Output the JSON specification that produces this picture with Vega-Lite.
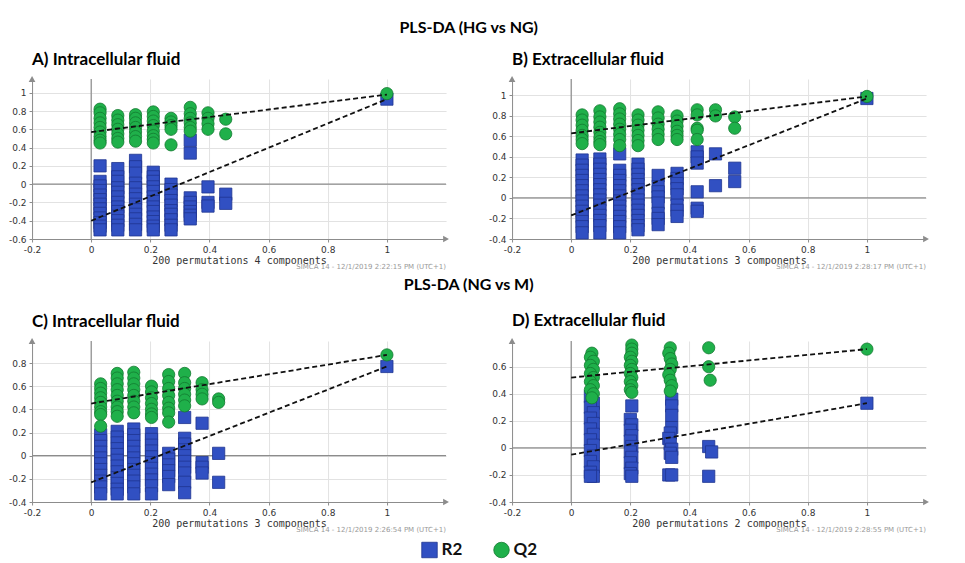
{
"$schema":"https://vega.github.io/schema/vega-lite/v6.json",
"padding":{"left":8,"top":20,"right":0,"bottom":0},
"spacing":7,
"center":true,
"datasets":{
"lns":[
{"p":"A","s":"Q2","x":0,"y":0.57},{"p":"A","s":"Q2","x":1,"y":0.98},{"p":"A","s":"R2","x":0,"y":-0.40},{"p":"A","s":"R2","x":1,"y":0.93},
{"p":"B","s":"Q2","x":0,"y":0.63},{"p":"B","s":"Q2","x":1,"y":0.99},{"p":"B","s":"R2","x":0,"y":-0.17},{"p":"B","s":"R2","x":1,"y":0.97},
{"p":"C","s":"Q2","x":0,"y":0.45},{"p":"C","s":"Q2","x":1,"y":0.87},{"p":"C","s":"R2","x":0,"y":-0.23},{"p":"C","s":"R2","x":1,"y":0.77},
{"p":"D","s":"Q2","x":0,"y":0.52},{"p":"D","s":"Q2","x":1,"y":0.73},{"p":"D","s":"R2","x":0,"y":-0.05},{"p":"D","s":"R2","x":1,"y":0.33}
],
"pts":[
{"p":"A","s":"R2","x":0.03,"y":0.20},{"p":"A","s":"R2","x":0.03,"y":0.03},{"p":"A","s":"R2","x":0.03,"y":-0.02},{"p":"A","s":"R2","x":0.03,"y":-0.07},{"p":"A","s":"R2","x":0.03,"y":-0.12},{"p":"A","s":"R2","x":0.03,"y":-0.17},{"p":"A","s":"R2","x":0.03,"y":-0.22},{"p":"A","s":"R2","x":0.03,"y":-0.27},{"p":"A","s":"R2","x":0.03,"y":-0.32},{"p":"A","s":"R2","x":0.03,"y":-0.37},{"p":"A","s":"R2","x":0.03,"y":-0.42},{"p":"A","s":"R2","x":0.03,"y":-0.46},{"p":"A","s":"R2","x":0.03,"y":-0.50},
{"p":"A","s":"R2","x":0.09,"y":0.17},{"p":"A","s":"R2","x":0.09,"y":0.08},{"p":"A","s":"R2","x":0.09,"y":0.03},{"p":"A","s":"R2","x":0.09,"y":-0.04},{"p":"A","s":"R2","x":0.09,"y":-0.09},{"p":"A","s":"R2","x":0.09,"y":-0.14},{"p":"A","s":"R2","x":0.09,"y":-0.20},{"p":"A","s":"R2","x":0.09,"y":-0.25},{"p":"A","s":"R2","x":0.09,"y":-0.30},{"p":"A","s":"R2","x":0.09,"y":-0.35},{"p":"A","s":"R2","x":0.09,"y":-0.40},{"p":"A","s":"R2","x":0.09,"y":-0.45},{"p":"A","s":"R2","x":0.09,"y":-0.50},
{"p":"A","s":"R2","x":0.15,"y":0.26},{"p":"A","s":"R2","x":0.15,"y":0.19},{"p":"A","s":"R2","x":0.15,"y":0.12},{"p":"A","s":"R2","x":0.15,"y":0.01},{"p":"A","s":"R2","x":0.15,"y":-0.04},{"p":"A","s":"R2","x":0.15,"y":-0.11},{"p":"A","s":"R2","x":0.15,"y":-0.16},{"p":"A","s":"R2","x":0.15,"y":-0.22},{"p":"A","s":"R2","x":0.15,"y":-0.28},{"p":"A","s":"R2","x":0.15,"y":-0.33},{"p":"A","s":"R2","x":0.15,"y":-0.38},{"p":"A","s":"R2","x":0.15,"y":-0.44},{"p":"A","s":"R2","x":0.15,"y":-0.50},
{"p":"A","s":"R2","x":0.21,"y":0.13},{"p":"A","s":"R2","x":0.21,"y":0.08},{"p":"A","s":"R2","x":0.21,"y":0.03},{"p":"A","s":"R2","x":0.21,"y":-0.03},{"p":"A","s":"R2","x":0.21,"y":-0.08},{"p":"A","s":"R2","x":0.21,"y":-0.14},{"p":"A","s":"R2","x":0.21,"y":-0.19},{"p":"A","s":"R2","x":0.21,"y":-0.25},{"p":"A","s":"R2","x":0.21,"y":-0.30},{"p":"A","s":"R2","x":0.21,"y":-0.36},{"p":"A","s":"R2","x":0.21,"y":-0.41},{"p":"A","s":"R2","x":0.21,"y":-0.46},{"p":"A","s":"R2","x":0.21,"y":-0.50},
{"p":"A","s":"R2","x":0.27,"y":0.00},{"p":"A","s":"R2","x":0.27,"y":-0.06},{"p":"A","s":"R2","x":0.27,"y":-0.12},{"p":"A","s":"R2","x":0.27,"y":-0.18},{"p":"A","s":"R2","x":0.27,"y":-0.23},{"p":"A","s":"R2","x":0.27,"y":-0.29},{"p":"A","s":"R2","x":0.27,"y":-0.33},{"p":"A","s":"R2","x":0.27,"y":-0.39},{"p":"A","s":"R2","x":0.27,"y":-0.45},{"p":"A","s":"R2","x":0.27,"y":-0.50},
{"p":"A","s":"R2","x":0.335,"y":0.48},{"p":"A","s":"R2","x":0.335,"y":0.34},{"p":"A","s":"R2","x":0.335,"y":-0.15},{"p":"A","s":"R2","x":0.335,"y":-0.20},{"p":"A","s":"R2","x":0.335,"y":-0.25},{"p":"A","s":"R2","x":0.335,"y":-0.30},{"p":"A","s":"R2","x":0.335,"y":-0.34},{"p":"A","s":"R2","x":0.335,"y":-0.38},
{"p":"A","s":"R2","x":0.395,"y":-0.03},{"p":"A","s":"R2","x":0.395,"y":-0.20},{"p":"A","s":"R2","x":0.395,"y":-0.24},
{"p":"A","s":"R2","x":0.455,"y":-0.11},{"p":"A","s":"R2","x":0.455,"y":-0.21},
{"p":"A","s":"R2","x":1,"y":0.93},
{"p":"A","s":"Q2","x":0.03,"y":0.82},{"p":"A","s":"Q2","x":0.03,"y":0.78},{"p":"A","s":"Q2","x":0.03,"y":0.72},{"p":"A","s":"Q2","x":0.03,"y":0.67},{"p":"A","s":"Q2","x":0.03,"y":0.62},{"p":"A","s":"Q2","x":0.03,"y":0.57},{"p":"A","s":"Q2","x":0.03,"y":0.52},{"p":"A","s":"Q2","x":0.03,"y":0.48},{"p":"A","s":"Q2","x":0.03,"y":0.45},
{"p":"A","s":"Q2","x":0.09,"y":0.75},{"p":"A","s":"Q2","x":0.09,"y":0.70},{"p":"A","s":"Q2","x":0.09,"y":0.65},{"p":"A","s":"Q2","x":0.09,"y":0.60},{"p":"A","s":"Q2","x":0.09,"y":0.55},{"p":"A","s":"Q2","x":0.09,"y":0.50},{"p":"A","s":"Q2","x":0.09,"y":0.46},
{"p":"A","s":"Q2","x":0.15,"y":0.76},{"p":"A","s":"Q2","x":0.15,"y":0.72},{"p":"A","s":"Q2","x":0.15,"y":0.67},{"p":"A","s":"Q2","x":0.15,"y":0.62},{"p":"A","s":"Q2","x":0.15,"y":0.57},{"p":"A","s":"Q2","x":0.15,"y":0.52},{"p":"A","s":"Q2","x":0.15,"y":0.47},
{"p":"A","s":"Q2","x":0.21,"y":0.79},{"p":"A","s":"Q2","x":0.21,"y":0.74},{"p":"A","s":"Q2","x":0.21,"y":0.69},{"p":"A","s":"Q2","x":0.21,"y":0.64},{"p":"A","s":"Q2","x":0.21,"y":0.58},{"p":"A","s":"Q2","x":0.21,"y":0.53},{"p":"A","s":"Q2","x":0.21,"y":0.49},{"p":"A","s":"Q2","x":0.21,"y":0.45},
{"p":"A","s":"Q2","x":0.27,"y":0.72},{"p":"A","s":"Q2","x":0.27,"y":0.68},{"p":"A","s":"Q2","x":0.27,"y":0.64},{"p":"A","s":"Q2","x":0.27,"y":0.60},{"p":"A","s":"Q2","x":0.27,"y":0.43},
{"p":"A","s":"Q2","x":0.335,"y":0.84},{"p":"A","s":"Q2","x":0.335,"y":0.77},{"p":"A","s":"Q2","x":0.335,"y":0.72},{"p":"A","s":"Q2","x":0.335,"y":0.67},{"p":"A","s":"Q2","x":0.335,"y":0.62},{"p":"A","s":"Q2","x":0.335,"y":0.58},
{"p":"A","s":"Q2","x":0.395,"y":0.78},{"p":"A","s":"Q2","x":0.395,"y":0.72},{"p":"A","s":"Q2","x":0.395,"y":0.66},{"p":"A","s":"Q2","x":0.395,"y":0.60},
{"p":"A","s":"Q2","x":0.455,"y":0.71},{"p":"A","s":"Q2","x":0.455,"y":0.55},
{"p":"A","s":"Q2","x":1,"y":0.99},

{"p":"B","s":"R2","x":0.037,"y":0.37},{"p":"B","s":"R2","x":0.037,"y":0.32},{"p":"B","s":"R2","x":0.037,"y":0.27},{"p":"B","s":"R2","x":0.037,"y":0.22},{"p":"B","s":"R2","x":0.037,"y":0.17},{"p":"B","s":"R2","x":0.037,"y":0.12},{"p":"B","s":"R2","x":0.037,"y":0.07},{"p":"B","s":"R2","x":0.037,"y":0.02},{"p":"B","s":"R2","x":0.037,"y":-0.03},{"p":"B","s":"R2","x":0.037,"y":-0.08},{"p":"B","s":"R2","x":0.037,"y":-0.13},{"p":"B","s":"R2","x":0.037,"y":-0.18},{"p":"B","s":"R2","x":0.037,"y":-0.23},{"p":"B","s":"R2","x":0.037,"y":-0.28},{"p":"B","s":"R2","x":0.037,"y":-0.34},
{"p":"B","s":"R2","x":0.097,"y":0.38},{"p":"B","s":"R2","x":0.097,"y":0.33},{"p":"B","s":"R2","x":0.097,"y":0.28},{"p":"B","s":"R2","x":0.097,"y":0.23},{"p":"B","s":"R2","x":0.097,"y":0.18},{"p":"B","s":"R2","x":0.097,"y":0.13},{"p":"B","s":"R2","x":0.097,"y":0.08},{"p":"B","s":"R2","x":0.097,"y":0.03},{"p":"B","s":"R2","x":0.097,"y":-0.02},{"p":"B","s":"R2","x":0.097,"y":-0.07},{"p":"B","s":"R2","x":0.097,"y":-0.12},{"p":"B","s":"R2","x":0.097,"y":-0.17},{"p":"B","s":"R2","x":0.097,"y":-0.22},{"p":"B","s":"R2","x":0.097,"y":-0.27},{"p":"B","s":"R2","x":0.097,"y":-0.34},
{"p":"B","s":"R2","x":0.164,"y":0.43},{"p":"B","s":"R2","x":0.164,"y":0.27},{"p":"B","s":"R2","x":0.164,"y":0.22},{"p":"B","s":"R2","x":0.164,"y":0.17},{"p":"B","s":"R2","x":0.164,"y":0.12},{"p":"B","s":"R2","x":0.164,"y":0.07},{"p":"B","s":"R2","x":0.164,"y":0.02},{"p":"B","s":"R2","x":0.164,"y":-0.03},{"p":"B","s":"R2","x":0.164,"y":-0.08},{"p":"B","s":"R2","x":0.164,"y":-0.13},{"p":"B","s":"R2","x":0.164,"y":-0.18},{"p":"B","s":"R2","x":0.164,"y":-0.23},{"p":"B","s":"R2","x":0.164,"y":-0.28},{"p":"B","s":"R2","x":0.164,"y":-0.34},
{"p":"B","s":"R2","x":0.226,"y":0.33},{"p":"B","s":"R2","x":0.226,"y":0.28},{"p":"B","s":"R2","x":0.226,"y":0.23},{"p":"B","s":"R2","x":0.226,"y":0.18},{"p":"B","s":"R2","x":0.226,"y":0.13},{"p":"B","s":"R2","x":0.226,"y":0.08},{"p":"B","s":"R2","x":0.226,"y":0.03},{"p":"B","s":"R2","x":0.226,"y":-0.02},{"p":"B","s":"R2","x":0.226,"y":-0.07},{"p":"B","s":"R2","x":0.226,"y":-0.12},{"p":"B","s":"R2","x":0.226,"y":-0.17},{"p":"B","s":"R2","x":0.226,"y":-0.22},{"p":"B","s":"R2","x":0.226,"y":-0.27},{"p":"B","s":"R2","x":0.226,"y":-0.31},
{"p":"B","s":"R2","x":0.294,"y":0.22},{"p":"B","s":"R2","x":0.294,"y":0.11},{"p":"B","s":"R2","x":0.294,"y":0.06},{"p":"B","s":"R2","x":0.294,"y":0.01},{"p":"B","s":"R2","x":0.294,"y":-0.05},{"p":"B","s":"R2","x":0.294,"y":-0.15},{"p":"B","s":"R2","x":0.294,"y":-0.20},{"p":"B","s":"R2","x":0.294,"y":-0.26},
{"p":"B","s":"R2","x":0.358,"y":0.24},{"p":"B","s":"R2","x":0.358,"y":0.19},{"p":"B","s":"R2","x":0.358,"y":0.14},{"p":"B","s":"R2","x":0.358,"y":0.09},{"p":"B","s":"R2","x":0.358,"y":0.03},{"p":"B","s":"R2","x":0.358,"y":-0.07},{"p":"B","s":"R2","x":0.358,"y":-0.12},{"p":"B","s":"R2","x":0.358,"y":-0.18},
{"p":"B","s":"R2","x":0.426,"y":0.45},{"p":"B","s":"R2","x":0.426,"y":0.40},{"p":"B","s":"R2","x":0.426,"y":0.34},{"p":"B","s":"R2","x":0.426,"y":0.06},{"p":"B","s":"R2","x":0.426,"y":-0.10},{"p":"B","s":"R2","x":0.426,"y":-0.13},
{"p":"B","s":"R2","x":0.488,"y":0.43},{"p":"B","s":"R2","x":0.488,"y":0.12},
{"p":"B","s":"R2","x":0.553,"y":0.29},{"p":"B","s":"R2","x":0.553,"y":0.16},
{"p":"B","s":"R2","x":1,"y":0.97},
{"p":"B","s":"Q2","x":0.037,"y":0.81},{"p":"B","s":"Q2","x":0.037,"y":0.76},{"p":"B","s":"Q2","x":0.037,"y":0.71},{"p":"B","s":"Q2","x":0.037,"y":0.66},{"p":"B","s":"Q2","x":0.037,"y":0.61},{"p":"B","s":"Q2","x":0.037,"y":0.57},{"p":"B","s":"Q2","x":0.037,"y":0.53},
{"p":"B","s":"Q2","x":0.097,"y":0.85},{"p":"B","s":"Q2","x":0.097,"y":0.79},{"p":"B","s":"Q2","x":0.097,"y":0.74},{"p":"B","s":"Q2","x":0.097,"y":0.69},{"p":"B","s":"Q2","x":0.097,"y":0.64},{"p":"B","s":"Q2","x":0.097,"y":0.59},{"p":"B","s":"Q2","x":0.097,"y":0.55},{"p":"B","s":"Q2","x":0.097,"y":0.52},
{"p":"B","s":"Q2","x":0.164,"y":0.87},{"p":"B","s":"Q2","x":0.164,"y":0.82},{"p":"B","s":"Q2","x":0.164,"y":0.77},{"p":"B","s":"Q2","x":0.164,"y":0.72},{"p":"B","s":"Q2","x":0.164,"y":0.67},{"p":"B","s":"Q2","x":0.164,"y":0.62},{"p":"B","s":"Q2","x":0.164,"y":0.57},{"p":"B","s":"Q2","x":0.164,"y":0.51},
{"p":"B","s":"Q2","x":0.226,"y":0.81},{"p":"B","s":"Q2","x":0.226,"y":0.76},{"p":"B","s":"Q2","x":0.226,"y":0.71},{"p":"B","s":"Q2","x":0.226,"y":0.66},{"p":"B","s":"Q2","x":0.226,"y":0.61},{"p":"B","s":"Q2","x":0.226,"y":0.56},{"p":"B","s":"Q2","x":0.226,"y":0.51},
{"p":"B","s":"Q2","x":0.294,"y":0.84},{"p":"B","s":"Q2","x":0.294,"y":0.78},{"p":"B","s":"Q2","x":0.294,"y":0.72},{"p":"B","s":"Q2","x":0.294,"y":0.67},{"p":"B","s":"Q2","x":0.294,"y":0.62},{"p":"B","s":"Q2","x":0.294,"y":0.57},
{"p":"B","s":"Q2","x":0.358,"y":0.80},{"p":"B","s":"Q2","x":0.358,"y":0.75},{"p":"B","s":"Q2","x":0.358,"y":0.70},{"p":"B","s":"Q2","x":0.358,"y":0.65},{"p":"B","s":"Q2","x":0.358,"y":0.61},{"p":"B","s":"Q2","x":0.358,"y":0.57},
{"p":"B","s":"Q2","x":0.426,"y":0.86},{"p":"B","s":"Q2","x":0.426,"y":0.81},{"p":"B","s":"Q2","x":0.426,"y":0.68},{"p":"B","s":"Q2","x":0.426,"y":0.66},{"p":"B","s":"Q2","x":0.426,"y":0.57},
{"p":"B","s":"Q2","x":0.488,"y":0.86},{"p":"B","s":"Q2","x":0.488,"y":0.80},
{"p":"B","s":"Q2","x":0.553,"y":0.79},{"p":"B","s":"Q2","x":0.553,"y":0.68},
{"p":"B","s":"Q2","x":1,"y":0.99},

{"p":"C","s":"R2","x":0.032,"y":0.18},{"p":"C","s":"R2","x":0.032,"y":0.13},{"p":"C","s":"R2","x":0.032,"y":0.08},{"p":"C","s":"R2","x":0.032,"y":0.03},{"p":"C","s":"R2","x":0.032,"y":-0.02},{"p":"C","s":"R2","x":0.032,"y":-0.07},{"p":"C","s":"R2","x":0.032,"y":-0.12},{"p":"C","s":"R2","x":0.032,"y":-0.17},{"p":"C","s":"R2","x":0.032,"y":-0.22},{"p":"C","s":"R2","x":0.032,"y":-0.27},{"p":"C","s":"R2","x":0.032,"y":-0.33},
{"p":"C","s":"R2","x":0.088,"y":0.21},{"p":"C","s":"R2","x":0.088,"y":0.16},{"p":"C","s":"R2","x":0.088,"y":0.11},{"p":"C","s":"R2","x":0.088,"y":0.06},{"p":"C","s":"R2","x":0.088,"y":0.01},{"p":"C","s":"R2","x":0.088,"y":-0.04},{"p":"C","s":"R2","x":0.088,"y":-0.09},{"p":"C","s":"R2","x":0.088,"y":-0.14},{"p":"C","s":"R2","x":0.088,"y":-0.19},{"p":"C","s":"R2","x":0.088,"y":-0.24},{"p":"C","s":"R2","x":0.088,"y":-0.29},{"p":"C","s":"R2","x":0.088,"y":-0.33},
{"p":"C","s":"R2","x":0.144,"y":0.23},{"p":"C","s":"R2","x":0.144,"y":0.18},{"p":"C","s":"R2","x":0.144,"y":0.13},{"p":"C","s":"R2","x":0.144,"y":0.08},{"p":"C","s":"R2","x":0.144,"y":0.03},{"p":"C","s":"R2","x":0.144,"y":-0.02},{"p":"C","s":"R2","x":0.144,"y":-0.07},{"p":"C","s":"R2","x":0.144,"y":-0.12},{"p":"C","s":"R2","x":0.144,"y":-0.17},{"p":"C","s":"R2","x":0.144,"y":-0.22},{"p":"C","s":"R2","x":0.144,"y":-0.27},{"p":"C","s":"R2","x":0.144,"y":-0.33},
{"p":"C","s":"R2","x":0.204,"y":0.19},{"p":"C","s":"R2","x":0.204,"y":0.14},{"p":"C","s":"R2","x":0.204,"y":0.09},{"p":"C","s":"R2","x":0.204,"y":0.04},{"p":"C","s":"R2","x":0.204,"y":-0.01},{"p":"C","s":"R2","x":0.204,"y":-0.06},{"p":"C","s":"R2","x":0.204,"y":-0.11},{"p":"C","s":"R2","x":0.204,"y":-0.16},{"p":"C","s":"R2","x":0.204,"y":-0.21},{"p":"C","s":"R2","x":0.204,"y":-0.26},{"p":"C","s":"R2","x":0.204,"y":-0.33},
{"p":"C","s":"R2","x":0.262,"y":0.02},{"p":"C","s":"R2","x":0.262,"y":-0.03},{"p":"C","s":"R2","x":0.262,"y":-0.08},{"p":"C","s":"R2","x":0.262,"y":-0.13},{"p":"C","s":"R2","x":0.262,"y":-0.18},{"p":"C","s":"R2","x":0.262,"y":-0.25},
{"p":"C","s":"R2","x":0.316,"y":0.33},{"p":"C","s":"R2","x":0.316,"y":0.15},{"p":"C","s":"R2","x":0.316,"y":0.10},{"p":"C","s":"R2","x":0.316,"y":0.05},{"p":"C","s":"R2","x":0.316,"y":0.00},{"p":"C","s":"R2","x":0.316,"y":-0.05},{"p":"C","s":"R2","x":0.316,"y":-0.10},{"p":"C","s":"R2","x":0.316,"y":-0.15},{"p":"C","s":"R2","x":0.316,"y":-0.23},{"p":"C","s":"R2","x":0.316,"y":-0.32},
{"p":"C","s":"R2","x":0.375,"y":0.28},{"p":"C","s":"R2","x":0.375,"y":-0.06},{"p":"C","s":"R2","x":0.375,"y":-0.10},{"p":"C","s":"R2","x":0.375,"y":-0.15},
{"p":"C","s":"R2","x":0.431,"y":0.02},{"p":"C","s":"R2","x":0.431,"y":-0.23},
{"p":"C","s":"R2","x":1,"y":0.77},
{"p":"C","s":"Q2","x":0.032,"y":0.62},{"p":"C","s":"Q2","x":0.032,"y":0.58},{"p":"C","s":"Q2","x":0.032,"y":0.54},{"p":"C","s":"Q2","x":0.032,"y":0.50},{"p":"C","s":"Q2","x":0.032,"y":0.46},{"p":"C","s":"Q2","x":0.032,"y":0.42},{"p":"C","s":"Q2","x":0.032,"y":0.38},{"p":"C","s":"Q2","x":0.032,"y":0.355},{"p":"C","s":"Q2","x":0.032,"y":0.255},
{"p":"C","s":"Q2","x":0.088,"y":0.71},{"p":"C","s":"Q2","x":0.088,"y":0.67},{"p":"C","s":"Q2","x":0.088,"y":0.62},{"p":"C","s":"Q2","x":0.088,"y":0.57},{"p":"C","s":"Q2","x":0.088,"y":0.52},{"p":"C","s":"Q2","x":0.088,"y":0.47},{"p":"C","s":"Q2","x":0.088,"y":0.42},{"p":"C","s":"Q2","x":0.088,"y":0.38},{"p":"C","s":"Q2","x":0.088,"y":0.34},
{"p":"C","s":"Q2","x":0.144,"y":0.72},{"p":"C","s":"Q2","x":0.144,"y":0.67},{"p":"C","s":"Q2","x":0.144,"y":0.62},{"p":"C","s":"Q2","x":0.144,"y":0.57},{"p":"C","s":"Q2","x":0.144,"y":0.52},{"p":"C","s":"Q2","x":0.144,"y":0.47},{"p":"C","s":"Q2","x":0.144,"y":0.42},{"p":"C","s":"Q2","x":0.144,"y":0.37},
{"p":"C","s":"Q2","x":0.204,"y":0.60},{"p":"C","s":"Q2","x":0.204,"y":0.55},{"p":"C","s":"Q2","x":0.204,"y":0.50},{"p":"C","s":"Q2","x":0.204,"y":0.45},{"p":"C","s":"Q2","x":0.204,"y":0.40},{"p":"C","s":"Q2","x":0.204,"y":0.36},{"p":"C","s":"Q2","x":0.204,"y":0.33},
{"p":"C","s":"Q2","x":0.262,"y":0.70},{"p":"C","s":"Q2","x":0.262,"y":0.64},{"p":"C","s":"Q2","x":0.262,"y":0.58},{"p":"C","s":"Q2","x":0.262,"y":0.52},{"p":"C","s":"Q2","x":0.262,"y":0.46},{"p":"C","s":"Q2","x":0.262,"y":0.41},{"p":"C","s":"Q2","x":0.262,"y":0.37},{"p":"C","s":"Q2","x":0.262,"y":0.29},
{"p":"C","s":"Q2","x":0.316,"y":0.71},{"p":"C","s":"Q2","x":0.316,"y":0.63},{"p":"C","s":"Q2","x":0.316,"y":0.58},{"p":"C","s":"Q2","x":0.316,"y":0.53},{"p":"C","s":"Q2","x":0.316,"y":0.48},{"p":"C","s":"Q2","x":0.316,"y":0.43},
{"p":"C","s":"Q2","x":0.375,"y":0.63},{"p":"C","s":"Q2","x":0.375,"y":0.57},{"p":"C","s":"Q2","x":0.375,"y":0.53},{"p":"C","s":"Q2","x":0.375,"y":0.49},
{"p":"C","s":"Q2","x":0.431,"y":0.49},{"p":"C","s":"Q2","x":0.431,"y":0.46},
{"p":"C","s":"Q2","x":1,"y":0.87},

{"p":"D","s":"R2","x":0.065,"y":0.38},{"p":"D","s":"R2","x":0.075,"y":0.33},{"p":"D","s":"R2","x":0.065,"y":0.30},{"p":"D","s":"R2","x":0.075,"y":0.26},{"p":"D","s":"R2","x":0.065,"y":0.22},{"p":"D","s":"R2","x":0.075,"y":0.18},{"p":"D","s":"R2","x":0.065,"y":0.14},{"p":"D","s":"R2","x":0.075,"y":0.10},{"p":"D","s":"R2","x":0.065,"y":0.06},{"p":"D","s":"R2","x":0.075,"y":0.02},{"p":"D","s":"R2","x":0.065,"y":-0.02},{"p":"D","s":"R2","x":0.075,"y":-0.06},{"p":"D","s":"R2","x":0.065,"y":-0.10},{"p":"D","s":"R2","x":0.075,"y":-0.14},{"p":"D","s":"R2","x":0.065,"y":-0.18},{"p":"D","s":"R2","x":0.075,"y":-0.21},{"p":"D","s":"R2","x":0.065,"y":-0.21},
{"p":"D","s":"R2","x":0.205,"y":0.31},{"p":"D","s":"R2","x":0.2,"y":0.21},{"p":"D","s":"R2","x":0.205,"y":0.17},{"p":"D","s":"R2","x":0.2,"y":0.13},{"p":"D","s":"R2","x":0.205,"y":0.09},{"p":"D","s":"R2","x":0.2,"y":0.05},{"p":"D","s":"R2","x":0.205,"y":0.01},{"p":"D","s":"R2","x":0.2,"y":-0.03},{"p":"D","s":"R2","x":0.205,"y":-0.07},{"p":"D","s":"R2","x":0.2,"y":-0.11},{"p":"D","s":"R2","x":0.205,"y":-0.15},{"p":"D","s":"R2","x":0.2,"y":-0.19},{"p":"D","s":"R2","x":0.205,"y":-0.21},
{"p":"D","s":"R2","x":0.34,"y":0.36},{"p":"D","s":"R2","x":0.34,"y":0.31},{"p":"D","s":"R2","x":0.34,"y":0.24},{"p":"D","s":"R2","x":0.34,"y":0.15},{"p":"D","s":"R2","x":0.335,"y":0.11},{"p":"D","s":"R2","x":0.33,"y":0.07},{"p":"D","s":"R2","x":0.335,"y":0.03},{"p":"D","s":"R2","x":0.34,"y":-0.01},{"p":"D","s":"R2","x":0.335,"y":-0.04},{"p":"D","s":"R2","x":0.34,"y":-0.07},{"p":"D","s":"R2","x":0.33,"y":-0.20},{"p":"D","s":"R2","x":0.34,"y":-0.20},
{"p":"D","s":"R2","x":0.465,"y":0.01},{"p":"D","s":"R2","x":0.475,"y":-0.03},{"p":"D","s":"R2","x":0.465,"y":-0.21},
{"p":"D","s":"R2","x":1,"y":0.33},
{"p":"D","s":"Q2","x":0.07,"y":0.70},{"p":"D","s":"Q2","x":0.065,"y":0.67},{"p":"D","s":"Q2","x":0.075,"y":0.64},{"p":"D","s":"Q2","x":0.065,"y":0.61},{"p":"D","s":"Q2","x":0.075,"y":0.58},{"p":"D","s":"Q2","x":0.065,"y":0.55},{"p":"D","s":"Q2","x":0.075,"y":0.52},{"p":"D","s":"Q2","x":0.065,"y":0.49},{"p":"D","s":"Q2","x":0.075,"y":0.46},{"p":"D","s":"Q2","x":0.065,"y":0.43},{"p":"D","s":"Q2","x":0.075,"y":0.40},{"p":"D","s":"Q2","x":0.07,"y":0.37},
{"p":"D","s":"Q2","x":0.205,"y":0.76},{"p":"D","s":"Q2","x":0.205,"y":0.73},{"p":"D","s":"Q2","x":0.205,"y":0.70},{"p":"D","s":"Q2","x":0.2,"y":0.67},{"p":"D","s":"Q2","x":0.205,"y":0.64},{"p":"D","s":"Q2","x":0.2,"y":0.61},{"p":"D","s":"Q2","x":0.205,"y":0.58},{"p":"D","s":"Q2","x":0.2,"y":0.55},{"p":"D","s":"Q2","x":0.205,"y":0.52},{"p":"D","s":"Q2","x":0.2,"y":0.49},{"p":"D","s":"Q2","x":0.205,"y":0.46},{"p":"D","s":"Q2","x":0.2,"y":0.43},{"p":"D","s":"Q2","x":0.205,"y":0.41},
{"p":"D","s":"Q2","x":0.335,"y":0.74},{"p":"D","s":"Q2","x":0.33,"y":0.70},{"p":"D","s":"Q2","x":0.335,"y":0.66},{"p":"D","s":"Q2","x":0.34,"y":0.62},{"p":"D","s":"Q2","x":0.335,"y":0.58},{"p":"D","s":"Q2","x":0.33,"y":0.54},{"p":"D","s":"Q2","x":0.335,"y":0.50},{"p":"D","s":"Q2","x":0.34,"y":0.46},{"p":"D","s":"Q2","x":0.335,"y":0.42},
{"p":"D","s":"Q2","x":0.465,"y":0.74},{"p":"D","s":"Q2","x":0.465,"y":0.60},{"p":"D","s":"Q2","x":0.47,"y":0.50},
{"p":"D","s":"Q2","x":1,"y":0.73}
]
},
"vconcat":[
{"title":{"text":"PLS-DA (HG vs NG)","anchor":"middle","frame":"bounds","fontSize":16,"offset":15},
 "spacing":39,
 "hconcat":[
 {"width":414,"height":160,"title":{"text":"A) Intracellular fluid"},
  "layer":[
   {"data":{"values":[{}]},"mark":{"type":"rule","color":"#8c8c8c","strokeWidth":1.2},"encoding":{"x":{"datum":0,"axis":{"values":[-0.2,0,0.2,0.4,0.6,0.8,1],"labelExpr":"toString(datum.value)","labelOverlap":false,"title":"200 permutations 4 components"}}}},
   {"data":{"values":[{}]},"mark":{"type":"rule","color":"#8c8c8c","strokeWidth":1.2},"encoding":{"y":{"datum":0,"axis":{"values":[-0.6,-0.4,-0.2,0,0.2,0.4,0.6,0.8,1],"labelExpr":"toString(datum.value)","labelOverlap":false,"title":null}}}},
   {"data":{"name":"pts"},"transform":[{"filter":"datum.p==='A'"}],"mark":{"type":"point","filled":true,"size":150,"strokeWidth":0.8,"opacity":1},
    "encoding":{
     "x":{"field":"x","type":"quantitative","scale":{"domain":[-0.2,1.2],"nice":false,"zero":false},"axis":{"values":[-0.2,0,0.2,0.4,0.6,0.8,1],"labelExpr":"toString(datum.value)","labelOverlap":false,"title":"200 permutations 4 components"}},
     "y":{"field":"y","type":"quantitative","scale":{"domain":[-0.6,1.15],"nice":false,"zero":false},"axis":{"values":[-0.6,-0.4,-0.2,0,0.2,0.4,0.6,0.8,1],"labelExpr":"toString(datum.value)","labelOverlap":false,"title":null}},
     "fill":{"field":"s","type":"nominal","scale":{"domain":["R2","Q2"],"range":["#3150c2","#1fb04a"]},"legend":null},
     "stroke":{"field":"s","type":"nominal","scale":{"domain":["R2","Q2"],"range":["#1f3590","#137a30"]},"legend":null},
     "shape":{"field":"s","type":"nominal","scale":{"domain":["R2","Q2"],"range":["square","circle"]},"legend":null}}},
   {"data":{"name":"lns"},"transform":[{"filter":"datum.p==='A'"}],"mark":{"type":"line","color":"#111","strokeDash":[5,3],"strokeWidth":1.8},"encoding":{"x":{"field":"x","type":"quantitative","axis":{"values":[-0.2,0,0.2,0.4,0.6,0.8,1],"labelExpr":"toString(datum.value)","labelOverlap":false,"title":"200 permutations 4 components"}},"y":{"field":"y","type":"quantitative","axis":{"values":[-0.6,-0.4,-0.2,0,0.2,0.4,0.6,0.8,1],"labelExpr":"toString(datum.value)","labelOverlap":false,"title":null}},"detail":{"field":"s"}}},
   {"data":{"values":[{}]},"mark":{"type":"point","shape":"triangle-up","filled":true,"color":"#8c8c8c","size":45,"opacity":1},"encoding":{"x":{"datum":-0.2,"axis":{"values":[-0.2,0,0.2,0.4,0.6,0.8,1],"labelExpr":"toString(datum.value)","labelOverlap":false,"title":"200 permutations 4 components"}},"y":{"datum":1.15,"axis":{"values":[-0.6,-0.4,-0.2,0,0.2,0.4,0.6,0.8,1],"labelExpr":"toString(datum.value)","labelOverlap":false,"title":null}}}},
   {"data":{"values":[{}]},"mark":{"type":"point","shape":"triangle-right","filled":true,"color":"#8c8c8c","size":45,"opacity":1},"encoding":{"x":{"datum":1.2,"axis":{"values":[-0.2,0,0.2,0.4,0.6,0.8,1],"labelExpr":"toString(datum.value)","labelOverlap":false,"title":"200 permutations 4 components"}},"y":{"datum":-0.6,"axis":{"values":[-0.6,-0.4,-0.2,0,0.2,0.4,0.6,0.8,1],"labelExpr":"toString(datum.value)","labelOverlap":false,"title":null}}}},
   {"data":{"values":[{}]},"mark":{"type":"text","text":"SIMCA 14 - 12/1/2019 2:22:15 PM (UTC+1)","align":"right","baseline":"middle","dy":28,"fontSize":7,"color":"#999","font":"DejaVu Sans"},"encoding":{"x":{"datum":1.2,"axis":{"values":[-0.2,0,0.2,0.4,0.6,0.8,1],"labelExpr":"toString(datum.value)","labelOverlap":false,"title":"200 permutations 4 components"}},"y":{"datum":-0.6,"axis":{"values":[-0.6,-0.4,-0.2,0,0.2,0.4,0.6,0.8,1],"labelExpr":"toString(datum.value)","labelOverlap":false,"title":null}}}}
  ]},
 {"width":414,"height":160,"title":{"text":"B) Extracellular fluid"},
  "layer":[
   {"data":{"values":[{}]},"mark":{"type":"rule","color":"#8c8c8c","strokeWidth":1.2},"encoding":{"x":{"datum":0,"axis":{"values":[-0.2,0,0.2,0.4,0.6,0.8,1],"labelExpr":"toString(datum.value)","labelOverlap":false,"title":"200 permutations 3 components"}}}},
   {"data":{"values":[{}]},"mark":{"type":"rule","color":"#8c8c8c","strokeWidth":1.2},"encoding":{"y":{"datum":0,"axis":{"values":[-0.4,-0.2,0,0.2,0.4,0.6,0.8,1],"labelExpr":"toString(datum.value)","labelOverlap":false,"title":null}}}},
   {"data":{"name":"pts"},"transform":[{"filter":"datum.p==='B'"}],"mark":{"type":"point","filled":true,"size":150,"strokeWidth":0.8,"opacity":1},
    "encoding":{
     "x":{"field":"x","type":"quantitative","scale":{"domain":[-0.2,1.2],"nice":false,"zero":false},"axis":{"values":[-0.2,0,0.2,0.4,0.6,0.8,1],"labelExpr":"toString(datum.value)","labelOverlap":false,"title":"200 permutations 3 components"}},
     "y":{"field":"y","type":"quantitative","scale":{"domain":[-0.4,1.16],"nice":false,"zero":false},"axis":{"values":[-0.4,-0.2,0,0.2,0.4,0.6,0.8,1],"labelExpr":"toString(datum.value)","labelOverlap":false,"title":null}},
     "fill":{"field":"s","type":"nominal","scale":{"domain":["R2","Q2"],"range":["#3150c2","#1fb04a"]},"legend":null},
     "stroke":{"field":"s","type":"nominal","scale":{"domain":["R2","Q2"],"range":["#1f3590","#137a30"]},"legend":null},
     "shape":{"field":"s","type":"nominal","scale":{"domain":["R2","Q2"],"range":["square","circle"]},"legend":null}}},
   {"data":{"name":"lns"},"transform":[{"filter":"datum.p==='B'"}],"mark":{"type":"line","color":"#111","strokeDash":[5,3],"strokeWidth":1.8},"encoding":{"x":{"field":"x","type":"quantitative","axis":{"values":[-0.2,0,0.2,0.4,0.6,0.8,1],"labelExpr":"toString(datum.value)","labelOverlap":false,"title":"200 permutations 3 components"}},"y":{"field":"y","type":"quantitative","axis":{"values":[-0.4,-0.2,0,0.2,0.4,0.6,0.8,1],"labelExpr":"toString(datum.value)","labelOverlap":false,"title":null}},"detail":{"field":"s"}}},
   {"data":{"values":[{}]},"mark":{"type":"point","shape":"triangle-up","filled":true,"color":"#8c8c8c","size":45,"opacity":1},"encoding":{"x":{"datum":-0.2,"axis":{"values":[-0.2,0,0.2,0.4,0.6,0.8,1],"labelExpr":"toString(datum.value)","labelOverlap":false,"title":"200 permutations 3 components"}},"y":{"datum":1.16,"axis":{"values":[-0.4,-0.2,0,0.2,0.4,0.6,0.8,1],"labelExpr":"toString(datum.value)","labelOverlap":false,"title":null}}}},
   {"data":{"values":[{}]},"mark":{"type":"point","shape":"triangle-right","filled":true,"color":"#8c8c8c","size":45,"opacity":1},"encoding":{"x":{"datum":1.2,"axis":{"values":[-0.2,0,0.2,0.4,0.6,0.8,1],"labelExpr":"toString(datum.value)","labelOverlap":false,"title":"200 permutations 3 components"}},"y":{"datum":-0.4,"axis":{"values":[-0.4,-0.2,0,0.2,0.4,0.6,0.8,1],"labelExpr":"toString(datum.value)","labelOverlap":false,"title":null}}}},
   {"data":{"values":[{}]},"mark":{"type":"text","text":"SIMCA 14 - 12/1/2019 2:28:17 PM (UTC+1)","align":"right","baseline":"middle","dy":28,"fontSize":7,"color":"#999","font":"DejaVu Sans"},"encoding":{"x":{"datum":1.2,"axis":{"values":[-0.2,0,0.2,0.4,0.6,0.8,1],"labelExpr":"toString(datum.value)","labelOverlap":false,"title":"200 permutations 3 components"}},"y":{"datum":-0.4,"axis":{"values":[-0.4,-0.2,0,0.2,0.4,0.6,0.8,1],"labelExpr":"toString(datum.value)","labelOverlap":false,"title":null}}}}
  ]}
 ]},
{"title":{"text":"PLS-DA (NG vs M)","anchor":"middle","frame":"bounds","fontSize":16,"offset":19},
 "spacing":39,
 "hconcat":[
 {"width":414,"height":161,"title":{"text":"C) Intracellular fluid"},
  "layer":[
   {"data":{"values":[{}]},"mark":{"type":"rule","color":"#8c8c8c","strokeWidth":1.2},"encoding":{"x":{"datum":0,"axis":{"values":[-0.2,0,0.2,0.4,0.6,0.8,1],"labelExpr":"toString(datum.value)","labelOverlap":false,"title":"200 permutations 3 components"}}}},
   {"data":{"values":[{}]},"mark":{"type":"rule","color":"#8c8c8c","strokeWidth":1.2},"encoding":{"y":{"datum":0,"axis":{"values":[-0.4,-0.2,0,0.2,0.4,0.6,0.8],"labelExpr":"toString(datum.value)","labelOverlap":false,"title":null}}}},
   {"data":{"name":"pts"},"transform":[{"filter":"datum.p==='C'"}],"mark":{"type":"point","filled":true,"size":150,"strokeWidth":0.8,"opacity":1},
    "encoding":{
     "x":{"field":"x","type":"quantitative","scale":{"domain":[-0.2,1.2],"nice":false,"zero":false},"axis":{"values":[-0.2,0,0.2,0.4,0.6,0.8,1],"labelExpr":"toString(datum.value)","labelOverlap":false,"title":"200 permutations 3 components"}},
     "y":{"field":"y","type":"quantitative","scale":{"domain":[-0.4,0.99],"nice":false,"zero":false},"axis":{"values":[-0.4,-0.2,0,0.2,0.4,0.6,0.8],"labelExpr":"toString(datum.value)","labelOverlap":false,"title":null}},
     "fill":{"field":"s","type":"nominal","scale":{"domain":["R2","Q2"],"range":["#3150c2","#1fb04a"]},"legend":null},
     "stroke":{"field":"s","type":"nominal","scale":{"domain":["R2","Q2"],"range":["#1f3590","#137a30"]},"legend":null},
     "shape":{"field":"s","type":"nominal","scale":{"domain":["R2","Q2"],"range":["square","circle"]},"legend":null}}},
   {"data":{"name":"lns"},"transform":[{"filter":"datum.p==='C'"}],"mark":{"type":"line","color":"#111","strokeDash":[5,3],"strokeWidth":1.8},"encoding":{"x":{"field":"x","type":"quantitative","axis":{"values":[-0.2,0,0.2,0.4,0.6,0.8,1],"labelExpr":"toString(datum.value)","labelOverlap":false,"title":"200 permutations 3 components"}},"y":{"field":"y","type":"quantitative","axis":{"values":[-0.4,-0.2,0,0.2,0.4,0.6,0.8],"labelExpr":"toString(datum.value)","labelOverlap":false,"title":null}},"detail":{"field":"s"}}},
   {"data":{"values":[{}]},"mark":{"type":"point","shape":"triangle-up","filled":true,"color":"#8c8c8c","size":45,"opacity":1},"encoding":{"x":{"datum":-0.2,"axis":{"values":[-0.2,0,0.2,0.4,0.6,0.8,1],"labelExpr":"toString(datum.value)","labelOverlap":false,"title":"200 permutations 3 components"}},"y":{"datum":0.99,"axis":{"values":[-0.4,-0.2,0,0.2,0.4,0.6,0.8],"labelExpr":"toString(datum.value)","labelOverlap":false,"title":null}}}},
   {"data":{"values":[{}]},"mark":{"type":"point","shape":"triangle-right","filled":true,"color":"#8c8c8c","size":45,"opacity":1},"encoding":{"x":{"datum":1.2,"axis":{"values":[-0.2,0,0.2,0.4,0.6,0.8,1],"labelExpr":"toString(datum.value)","labelOverlap":false,"title":"200 permutations 3 components"}},"y":{"datum":-0.4,"axis":{"values":[-0.4,-0.2,0,0.2,0.4,0.6,0.8],"labelExpr":"toString(datum.value)","labelOverlap":false,"title":null}}}},
   {"data":{"values":[{}]},"mark":{"type":"text","text":"SIMCA 14 - 12/1/2019 2:26:54 PM (UTC+1)","align":"right","baseline":"middle","dy":28,"fontSize":7,"color":"#999","font":"DejaVu Sans"},"encoding":{"x":{"datum":1.2,"axis":{"values":[-0.2,0,0.2,0.4,0.6,0.8,1],"labelExpr":"toString(datum.value)","labelOverlap":false,"title":"200 permutations 3 components"}},"y":{"datum":-0.4,"axis":{"values":[-0.4,-0.2,0,0.2,0.4,0.6,0.8],"labelExpr":"toString(datum.value)","labelOverlap":false,"title":null}}}}
  ]},
 {"width":414,"height":161,"title":{"text":"D) Extracellular fluid"},
  "layer":[
   {"data":{"values":[{}]},"mark":{"type":"rule","color":"#8c8c8c","strokeWidth":1.2},"encoding":{"x":{"datum":0,"axis":{"values":[-0.2,0,0.2,0.4,0.6,0.8,1],"labelExpr":"toString(datum.value)","labelOverlap":false,"title":"200 permutations 2 components"}}}},
   {"data":{"values":[{}]},"mark":{"type":"rule","color":"#8c8c8c","strokeWidth":1.2},"encoding":{"y":{"datum":0,"axis":{"values":[-0.4,-0.2,0,0.2,0.4,0.6],"labelExpr":"toString(datum.value)","labelOverlap":false,"title":null}}}},
   {"data":{"name":"pts"},"transform":[{"filter":"datum.p==='D'"}],"mark":{"type":"point","filled":true,"size":150,"strokeWidth":0.8,"opacity":1},
    "encoding":{
     "x":{"field":"x","type":"quantitative","scale":{"domain":[-0.2,1.2],"nice":false,"zero":false},"axis":{"values":[-0.2,0,0.2,0.4,0.6,0.8,1],"labelExpr":"toString(datum.value)","labelOverlap":false,"title":"200 permutations 2 components"}},
     "y":{"field":"y","type":"quantitative","scale":{"domain":[-0.4,0.79],"nice":false,"zero":false},"axis":{"values":[-0.4,-0.2,0,0.2,0.4,0.6],"labelExpr":"toString(datum.value)","labelOverlap":false,"title":null}},
     "fill":{"field":"s","type":"nominal","scale":{"domain":["R2","Q2"],"range":["#3150c2","#1fb04a"]},"legend":null},
     "stroke":{"field":"s","type":"nominal","scale":{"domain":["R2","Q2"],"range":["#1f3590","#137a30"]},"legend":null},
     "shape":{"field":"s","type":"nominal","scale":{"domain":["R2","Q2"],"range":["square","circle"]},"legend":null}}},
   {"data":{"name":"lns"},"transform":[{"filter":"datum.p==='D'"}],"mark":{"type":"line","color":"#111","strokeDash":[5,3],"strokeWidth":1.8},"encoding":{"x":{"field":"x","type":"quantitative","axis":{"values":[-0.2,0,0.2,0.4,0.6,0.8,1],"labelExpr":"toString(datum.value)","labelOverlap":false,"title":"200 permutations 2 components"}},"y":{"field":"y","type":"quantitative","axis":{"values":[-0.4,-0.2,0,0.2,0.4,0.6],"labelExpr":"toString(datum.value)","labelOverlap":false,"title":null}},"detail":{"field":"s"}}},
   {"data":{"values":[{}]},"mark":{"type":"point","shape":"triangle-up","filled":true,"color":"#8c8c8c","size":45,"opacity":1},"encoding":{"x":{"datum":-0.2,"axis":{"values":[-0.2,0,0.2,0.4,0.6,0.8,1],"labelExpr":"toString(datum.value)","labelOverlap":false,"title":"200 permutations 2 components"}},"y":{"datum":0.79,"axis":{"values":[-0.4,-0.2,0,0.2,0.4,0.6],"labelExpr":"toString(datum.value)","labelOverlap":false,"title":null}}}},
   {"data":{"values":[{}]},"mark":{"type":"point","shape":"triangle-right","filled":true,"color":"#8c8c8c","size":45,"opacity":1},"encoding":{"x":{"datum":1.2,"axis":{"values":[-0.2,0,0.2,0.4,0.6,0.8,1],"labelExpr":"toString(datum.value)","labelOverlap":false,"title":"200 permutations 2 components"}},"y":{"datum":-0.4,"axis":{"values":[-0.4,-0.2,0,0.2,0.4,0.6],"labelExpr":"toString(datum.value)","labelOverlap":false,"title":null}}}},
   {"data":{"values":[{}]},"mark":{"type":"text","text":"SIMCA 14 - 12/1/2019 2:28:55 PM (UTC+1)","align":"right","baseline":"middle","dy":28,"fontSize":7,"color":"#999","font":"DejaVu Sans"},"encoding":{"x":{"datum":1.2,"axis":{"values":[-0.2,0,0.2,0.4,0.6,0.8,1],"labelExpr":"toString(datum.value)","labelOverlap":false,"title":"200 permutations 2 components"}},"y":{"datum":-0.4,"axis":{"values":[-0.4,-0.2,0,0.2,0.4,0.6],"labelExpr":"toString(datum.value)","labelOverlap":false,"title":null}}}}
  ]}
 ]},
{"width":140,"height":18,
 "data":{"values":[{"s":"R2"},{"s":"Q2"}]},
 "encoding":{"x":{"field":"s","type":"nominal","scale":{"type":"point","domain":["R2","Q2"],"range":[19,91],"padding":0},"axis":null}},
 "layer":[
  {"mark":{"type":"point","filled":true,"size":240,"strokeWidth":0.8,"opacity":1},
   "encoding":{
    "fill":{"field":"s","type":"nominal","scale":{"domain":["R2","Q2"],"range":["#3150c2","#1fb04a"]},"legend":null},
    "stroke":{"field":"s","type":"nominal","scale":{"domain":["R2","Q2"],"range":["#1f3590","#137a30"]},"legend":null},
    "shape":{"field":"s","type":"nominal","scale":{"domain":["R2","Q2"],"range":["square","circle"]},"legend":null}}},
  {"mark":{"type":"text","align":"left","baseline":"middle","dx":12,"font":"Lato","fontSize":17,"fontWeight":"bold","color":"#111"},"encoding":{"text":{"field":"s"}}}
 ]}
],
"resolve":{"scale":{"fill":"shared","stroke":"shared","shape":"shared"}},
"config":{
 "view":{"stroke":null},
 "axis":{"labelFont":"DejaVu Sans","labelFontSize":9,"labelColor":"#333","domainColor":"#8c8c8c","tickColor":"#8c8c8c","tickSize":3,"gridColor":"#e2e2e2","grid":true,"labelPadding":3,"labelOverlap":false,"labelFlush":false,"titleFont":"DejaVu Sans Mono","titleFontSize":10,"titleFontWeight":"normal","titleColor":"#333","titlePadding":1},
 "title":{"font":"Lato","fontSize":17,"fontWeight":"bold","color":"#000","anchor":"start","frame":"group","offset":7}
}
}
